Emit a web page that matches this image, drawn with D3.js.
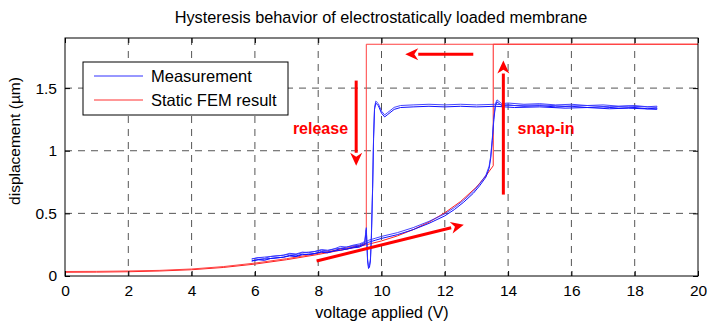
<!DOCTYPE html>
<html><head><meta charset="utf-8">
<script src="https://cdn.jsdelivr.net/npm/d3@7"></script>
<style>
body{margin:0;background:#fff;}
svg{display:block;font-family:"Liberation Sans",Arial,sans-serif;}
</style></head>
<body>
<svg id="chart" width="707" height="324"></svg>
<script>
const xTicks = [0,2,4,6,8,10,12,14,16,18,20];
const yTicks = [0,0.5,1,1.5];

// Measurement (loading then unloading), voltage / displacement
const measV = [5.9,6.1,6.3,6.5,6.7,6.9,7.1,7.3,7.5,7.7,7.9,8.1,8.3,8.5,8.7,8.9,9.1,9.3,9.45,9.6,9.8,10,10.5,11,11.5,12,12.3,12.6,12.9,13.1,13.3,13.4,13.45,13.5,13.55,13.6,13.65,13.8,14,14.5,15,15.5,16,16.5,17,17.5,18,18.4,18.7,
  18.7,18.3,17.8,17.2,16.5,15.8,15,14.2,13.6,13,12.5,12,11.5,11,10.6,10.4,10.2,10.1,10,9.9,9.82,9.78,9.75,9.72,9.68,9.65,9.62,9.59,9.56,9.54,9.52,9.5,9.47,9.4,9.3,9.1,8.9,8.7,8.5,8.3,8.1,7.9,7.7,7.5,7.3,7.1,6.9,6.7,6.5,6.3,6.1,5.9];
const measD = [0.12,0.13,0.125,0.14,0.145,0.15,0.16,0.155,0.17,0.175,0.18,0.19,0.185,0.2,0.205,0.215,0.225,0.23,0.25,0.27,0.285,0.3,0.33,0.37,0.42,0.48,0.53,0.59,0.66,0.72,0.79,0.86,0.94,1.08,1.25,1.36,1.39,1.36,1.365,1.355,1.36,1.35,1.355,1.345,1.35,1.34,1.345,1.335,1.34,
  1.33,1.335,1.34,1.335,1.345,1.34,1.35,1.345,1.355,1.35,1.355,1.35,1.355,1.35,1.345,1.33,1.29,1.27,1.3,1.36,1.38,1.33,1.1,0.7,0.3,0.12,0.07,0.06,0.12,0.25,0.37,0.33,0.26,0.25,0.24,0.23,0.215,0.22,0.2,0.19,0.195,0.18,0.17,0.175,0.16,0.165,0.15,0.145,0.14,0.135,0.13,0.12];

// Static FEM result: snap-in branch and release branch
const femUpV = [0,1,2,3,4,5,6,7,8,9,9.5,10,10.5,11,11.5,12,12.5,13,13.3,13.53,13.53,20];
const femUpD = [0.03,0.031,0.034,0.04,0.05,0.068,0.095,0.13,0.172,0.22,0.248,0.28,0.32,0.37,0.43,0.505,0.595,0.71,0.8,0.88,1.85,1.85];
const femDnV = [20,9.52,9.52,9.3,9,8,7,6,5,4,3,2,1,0];
const femDnD = [1.85,1.85,0.26,0.245,0.228,0.18,0.138,0.103,0.075,0.056,0.045,0.04,0.037,0.036];

// Annotation arrows [x1,y1,x2,y2] in data units (tip at x2,y2)
const arrows = [[12.9,1.77,10.75,1.77],[9.2,1.56,9.2,0.88],[13.85,0.65,13.85,1.72],[7.95,0.12,12.6,0.41]];
const labels = [{t:"release",x:7.2,y:1.13},{t:"snap-in",x:14.3,y:1.13}];

const svg = d3.select("#chart");
const L=65,R=698,T=38,B=276;
const x = d3.scaleLinear().domain([0,20]).range([L,R]);
const y = d3.scaleLinear().domain([0,1.9]).range([B,T]);

// grid
const g = svg.append("g");
g.selectAll(".gx").data(xTicks.slice(1,-1)).enter().append("line")
  .attr("x1",d=>x(d)).attr("x2",d=>x(d)).attr("y1",T).attr("y2",B)
  .attr("stroke","#555").attr("stroke-dasharray","7,6").attr("stroke-width",1);
g.selectAll(".gy").data(yTicks.slice(1)).enter().append("line")
  .attr("y1",d=>y(d)).attr("y2",d=>y(d)).attr("x1",L).attr("x2",R)
  .attr("stroke","#555").attr("stroke-dasharray","7,6").attr("stroke-width",1);

const line = d3.line().x(d=>x(d[0])).y(d=>y(d[1]));
svg.append("clipPath").attr("id","c").append("rect").attr("x",L).attr("y",T).attr("width",R-L).attr("height",B-T);
const plot = svg.append("g").attr("clip-path","url(#c)");

plot.append("path").datum(femUpV.map((v,i)=>[v,femUpD[i]])).attr("d",line)
  .attr("fill","none").attr("stroke","#ff2020").attr("stroke-width",1);
plot.append("path").datum(femDnV.map((v,i)=>[v,femDnD[i]])).attr("d",line)
  .attr("fill","none").attr("stroke","#ff4040").attr("stroke-width",1);

const meas = measV.map((v,i)=>[v,measD[i]]);
plot.append("path").datum(meas).attr("d",line)
  .attr("fill","none").attr("stroke","#1010ff").attr("stroke-width",1);
plot.append("path").datum(meas).attr("d",line).attr("transform","translate(0,-2)")
  .attr("fill","none").attr("stroke","#3030ff").attr("stroke-width",0.9);

// arrows
const red="#ff0000";
arrows.forEach(a=>{
  const x1=x(a[0]),y1=y(a[1]),x2=x(a[2]),y2=y(a[3]);
  const ang=Math.atan2(y2-y1,x2-x1), hl=13, hw=6;
  const bx=x2-hl*Math.cos(ang), by=y2-hl*Math.sin(ang);
  svg.append("line").attr("x1",x1).attr("y1",y1).attr("x2",bx).attr("y2",by)
    .attr("stroke",red).attr("stroke-width",3);
  const px=-Math.sin(ang)*hw, py=Math.cos(ang)*hw;
  svg.append("path").attr("d",`M${x2},${y2}L${bx+px},${by+py}L${bx+0.3*hl*Math.cos(ang)},${by+0.3*hl*Math.sin(ang)}L${bx-px},${by-py}Z`)
    .attr("fill",red);
});
labels.forEach(l=>{
  svg.append("text").attr("x",x(l.x)).attr("y",y(l.y)).text(l.t)
    .attr("fill",red).attr("font-weight","bold").attr("font-size",16);
});

// axes box
svg.append("rect").attr("x",L).attr("y",T).attr("width",R-L).attr("height",B-T)
  .attr("fill","none").attr("stroke","#000").attr("stroke-width",1);
const xa = svg.append("g").attr("transform",`translate(0,${B})`)
  .call(d3.axisBottom(x).tickValues(xTicks).tickSizeInner(-5).tickSizeOuter(0).tickPadding(9).tickFormat(d3.format("d")));
const xt = svg.append("g").attr("transform",`translate(0,${T})`)
  .call(d3.axisTop(x).tickValues(xTicks).tickSizeInner(-5).tickSizeOuter(0).tickFormat(""));
const ya = svg.append("g").attr("transform",`translate(${L},0)`)
  .call(d3.axisLeft(y).tickValues(yTicks).tickSizeInner(-5).tickSizeOuter(0).tickPadding(8).tickFormat(d=>d));
const yr = svg.append("g").attr("transform",`translate(${R},0)`)
  .call(d3.axisRight(y).tickValues(yTicks).tickSizeInner(-5).tickSizeOuter(0).tickFormat(""));
[xa,xt,ya,yr].forEach(a=>{a.select(".domain").remove();
  a.selectAll("text").attr("font-size",15.5).attr("fill","#000").attr("font-family","Liberation Sans, Arial, sans-serif");});

// legend
const lg = svg.append("g");
lg.append("rect").attr("x",83).attr("y",62).attr("width",205).attr("height",53)
  .attr("fill","#fff").attr("stroke","#000").attr("stroke-width",1);
[["Measurement","#3030ff",76],["Static FEM result","#ff3030",100]].forEach(r=>{
  lg.append("line").attr("x1",94).attr("x2",143).attr("y1",r[2]).attr("y2",r[2]).attr("stroke",r[1]).attr("stroke-width",1);
  lg.append("text").attr("x",151).attr("y",r[2]+5.5).text(r[0]).attr("font-size",16.5).attr("fill","#000");
});

// titles
svg.append("text").attr("x",381).attr("y",23).attr("text-anchor","middle").attr("font-size",16.3).text("Hysteresis behavior of electrostatically loaded membrane");
svg.append("text").attr("x",382).attr("y",318).attr("text-anchor","middle").attr("font-size",16).text("voltage applied (V)");
svg.append("text").attr("transform","translate(20,141) rotate(-90)").attr("text-anchor","middle").attr("font-size",15.5).text("displacement (µm)");
</script>
</body></html>
